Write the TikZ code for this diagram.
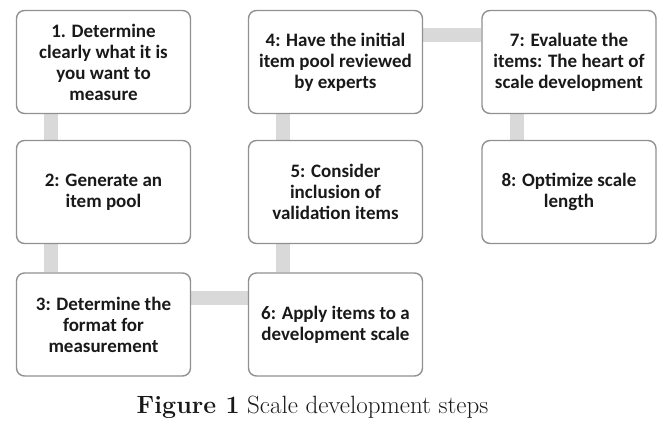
\documentclass[tikz,border=0pt]{standalone}
\usepackage{fontspec}
\newfontfamily\stepfont{Carlito}
\usetikzlibrary{backgrounds}

\definecolor{barGray}{RGB}{217,217,217}
\definecolor{boxGray}{RGB}{145,145,145}
\definecolor{inkGray}{RGB}{25,25,25}

\tikzset{
  stepbox/.style={draw=boxGray, line width=1.4pt, rounded corners=8pt,
    fill=white, minimum width=174pt, minimum height=103pt, inner sep=0pt,
    align=center, text=inkGray,
    font=\stepfont\bfseries\fontsize{19}{21}\selectfont},
  link/.style={barGray, line width=14pt}
}

\begin{document}
\begin{tikzpicture}[x=1pt, y=-1pt]
    \useasboundingbox (0,0) rectangle (670,425);

    % First column
    \node[stepbox] (s1) at (103.5,62) {1. Determine\\clearly what it is\\you want to\\measure};
    \node[stepbox] (s2) at (103.5,192) {2: Generate an\\item pool};
    \node[stepbox] (s3) at (103.5,324.5) {3: Determine the\\format for\\measurement};

    % Second column
    \node[stepbox] (s4) at (335.5,62) {4: Have the initial\\item pool reviewed\\by experts};
    \node[stepbox] (s5) at (335.5,192) {5: Consider\\inclusion of\\validation items};
    \node[stepbox] (s6) at (335.5,324.5) {6: Apply items to a\\development scale};

    % Third column
    \node[stepbox] (s7) at (569,62) {7: Evaluate the\\items: The heart of\\scale development};
    \node[stepbox] (s8) at (569,192) {8: Optimize scale\\length};

    % Grey bars joining the steps, behind the boxes
    \begin{pgfonlayer}{background}
        \draw[link] ([xshift=-52.5pt]s1.south) -- ([xshift=-52.5pt]s2.north);
        \draw[link] ([xshift=-52.5pt]s2.south) -- ([xshift=-52.5pt]s3.north);
        \draw[link] ([yshift=26.5pt]s3.east) -- ([yshift=26.5pt]s6.west);
        \draw[link] ([xshift=-52.5pt]s6.north) -- ([xshift=-52.5pt]s5.south);
        \draw[link] ([xshift=-52.5pt]s5.north) -- ([xshift=-52.5pt]s4.south);
        \draw[link] ([yshift=27pt]s4.east) -- ([yshift=27pt]s7.west);
        \draw[link] ([xshift=-52.5pt]s7.south) -- ([xshift=-52.5pt]s8.north);
    \end{pgfonlayer}

    % Caption
    \node[font=\fontsize{25}{29}\selectfont, text=inkGray, anchor=base] (cap) at (312.5,413)
        {\textbf{Figure 1} Scale development steps};
\end{tikzpicture}
\end{document}
